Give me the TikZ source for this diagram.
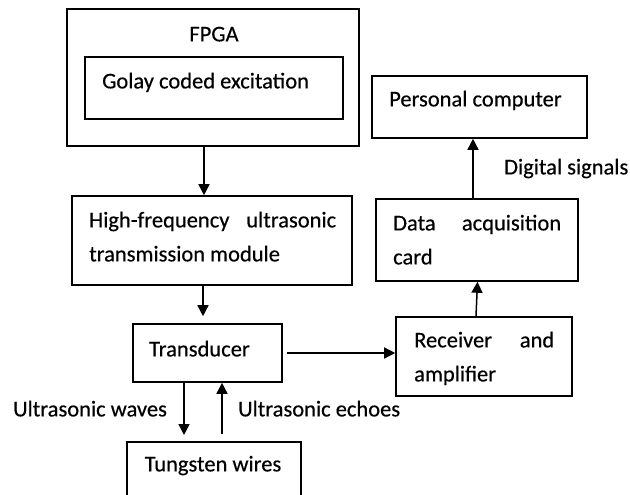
\documentclass[tikz,border=0pt]{standalone}
\usepackage{fontspec}
\setmainfont{Carlito}[FakeBold=0.4]
\usetikzlibrary{arrows.meta}
\newcommand{\jline}[2]{\makebox[#1][s]{#2}}
\begin{document}
\begin{tikzpicture}[x=1pt,y=-1pt,
  box/.style={draw, line width=1.6pt, inner sep=0pt},
  lbl/.style={inner sep=0pt, font=\fontsize{22.5}{26}\selectfont},
  arr/.style={line width=1.5pt, -{Triangle[length=11pt,width=11pt]}}]
\useasboundingbox[fill=white] (0,0) rectangle (630,495);
% boxes
\node[box, minimum width=292pt, minimum height=137pt] (fpga) at (213,77.5) {};
\node[box, minimum width=258pt, minimum height=62pt] (golay) at (214,88) {};
\node[box, minimum width=280pt, minimum height=89pt] (hf) at (212,240.5) {};
\node[box, minimum width=149pt, minimum height=58pt] (trans) at (207.5,353) {};
\node[box, minimum width=174pt, minimum height=70pt, anchor=north] (tung) at (214,441) {};
\node[box, minimum width=215pt, minimum height=62pt] (pc) at (479.5,107) {};
\node[box, minimum width=202pt, minimum height=82pt] (daq) at (477,240) {};
\node[box, minimum width=176pt, minimum height=79pt] (rec) at (484,356.5) {};
% texts
\node[lbl, anchor=mid] (tfpga) at (214,39) {FPGA};
\node[lbl, anchor=mid west] (tgolay) at (102,86) {Golay coded excitation};
\node[lbl, anchor=mid west] (thf1) at (89,225) {\jline{247pt}{High-frequency ultrasonic}};
\node[lbl, anchor=mid west] (thf2) at (89,259) {transmission module};
\node[lbl, anchor=mid] (ttrans) at (199.5,354) {Transducer};
\node[lbl, anchor=mid] (ttung) at (213,469) {Tungsten wires};
\node[lbl, anchor=mid west] (tpc) at (389,104) {Personal computer};
\node[lbl, anchor=mid west] (tdaq1) at (393,228) {\jline{168pt}{Data acquisition}};
\node[lbl, anchor=mid west] (tdaq2) at (393,262) {card};
\node[lbl, anchor=mid west] (trec1) at (414,345) {\jline{140pt}{Receiver and}};
\node[lbl, anchor=mid west] (trec2) at (414,379) {amplifier};
\node[lbl, anchor=mid west] (tdig) at (504,172) {Digital signals};
\node[lbl, anchor=mid west] (twav) at (13,414) {Ultrasonic waves};
\node[lbl, anchor=mid west] (tech) at (238,414) {Ultrasonic echoes};
% arrows
\draw[arr] ([xshift=-9pt]fpga.south) -- ([xshift=-8pt]hf.north);
\draw[arr] ([xshift=-9pt]hf.south) -- ([xshift=-4.5pt,yshift=7pt]trans.north);
\draw[arr] ([xshift=4pt]trans.east) -- (trans.east -| rec.west);
\draw[arr] ([xshift=-8pt]rec.north) -- ([xshift=0.5pt]daq.south);
\draw[arr] ([xshift=-4pt]daq.north) -- ([xshift=-6.5pt]pc.south);
\draw[arr] ([xshift=-23.5pt]trans.south) -- ([xshift=-30pt,yshift=6pt]tung.north);
\draw[arr] ([xshift=8pt,yshift=7pt]tung.north) -- ([xshift=14.5pt]trans.south);
\end{tikzpicture}
\end{document}
